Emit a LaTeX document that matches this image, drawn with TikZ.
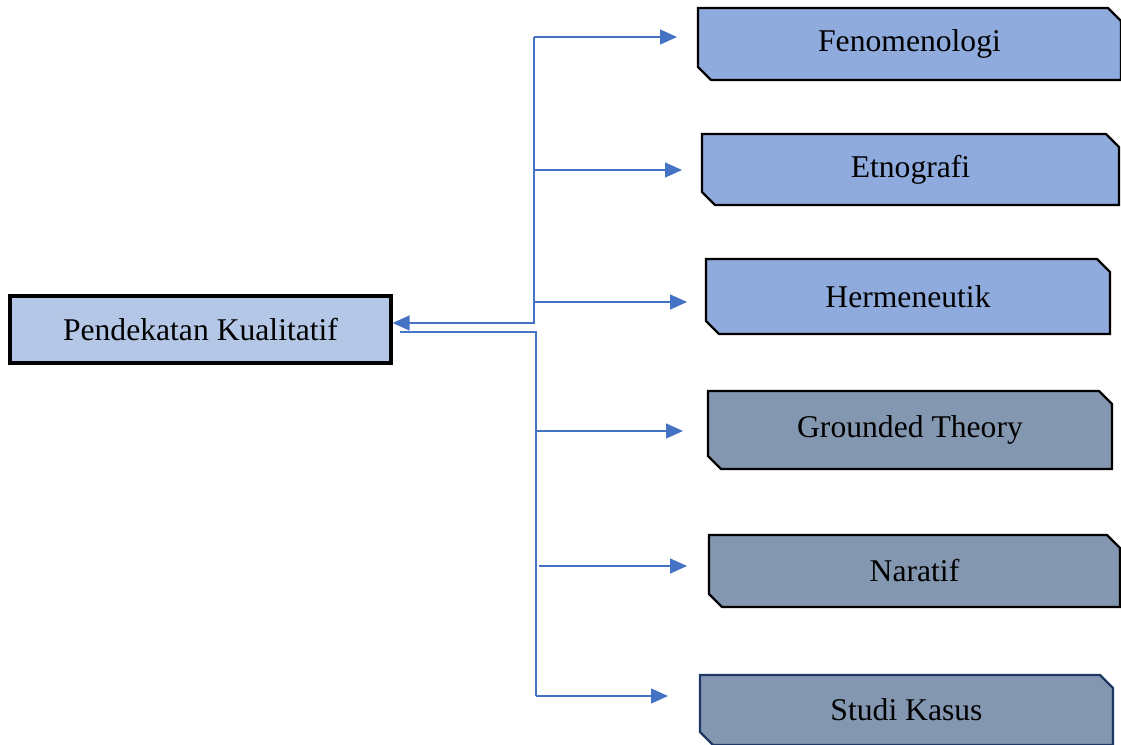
\documentclass[tikz,border=0pt]{standalone}
\usepackage{fontspec}
\setmainfont{Liberation Serif}
\usetikzlibrary{arrows.meta, shapes.misc}
\definecolor{linkblue}{HTML}{4472C4}
\definecolor{srcfill}{HTML}{B4C7E7}
\definecolor{bluefill}{HTML}{8FAADC}
\definecolor{grayfill}{HTML}{8497B0}
\definecolor{navyline}{HTML}{203864}
\begin{document}
\begin{tikzpicture}[
    link/.style={draw=linkblue, line width=0.7pt, -{Triangle[length=0.34cm, width=0.3cm]}},
    trunk/.style={draw=linkblue, line width=0.7pt},
    branchbox/.style={chamfered rectangle, chamfered rectangle corners={north east, south west},
      chamfered rectangle sep=0.13cm, draw=black, line width=1.3pt, inner sep=0pt,
      font=\fontsize{18}{20}\selectfont},
  ]
  \useasboundingbox (0,0) rectangle (22.42,14.88);
  \node[draw=black, line width=1.8pt, fill=srcfill, minimum width=7.62cm, minimum height=1.34cm,
    font=\fontsize{18}{20}\selectfont] (src) at (4.01,8.29) {Pendekatan Kualitatif};

  \node[branchbox, fill=bluefill, minimum width=8.46cm, minimum height=1.44cm] (fen) at (18.19,14.00) {Fenomenologi};
  \node[branchbox, fill=bluefill, minimum width=8.34cm, minimum height=1.42cm] (etn) at (18.21,11.49) {Etnografi};
  \node[branchbox, fill=bluefill, minimum width=8.08cm, minimum height=1.50cm] (her) at (18.16,8.95) {Hermeneutik};
  \node[branchbox, fill=grayfill, minimum width=8.08cm, minimum height=1.56cm] (gro) at (18.20,6.28) {Grounded Theory};
  \node[branchbox, fill=grayfill, minimum width=8.22cm, minimum height=1.44cm] (nar) at (18.29,3.46) {Naratif};
  \node[branchbox, fill=grayfill, draw=navyline, minimum width=8.26cm, minimum height=1.40cm] (stu) at (18.13,0.68) {Studi Kasus};

  % upper trunk, into the source box
  \coordinate (upTop) at (10.68,14.14);
  \coordinate (upEnd) at (10.68,8.42);
  \draw[link] (upTop) -- (upEnd) -- (src.east |- upEnd);
  \draw[link] (upTop) -- (13.54,14.14);
  \draw[link] (10.68,11.48) -- (13.64,11.48);
  \draw[link] (10.68,8.84) -- (13.74,8.84);

  % lower trunk, out of the source box
  \coordinate (lowStart) at (8.00,8.24);
  \coordinate (lowTop) at (10.72,8.24);
  \coordinate (lowEnd) at (10.72,0.96);
  \draw[trunk] (lowStart) -- (lowTop) -- (lowEnd);
  \draw[link] (10.72,6.26) -- (13.66,6.26);
  \draw[link] (10.78,3.56) -- (13.74,3.56);
  \draw[link] (lowEnd) -- (13.36,0.96);
\end{tikzpicture}
\end{document}
